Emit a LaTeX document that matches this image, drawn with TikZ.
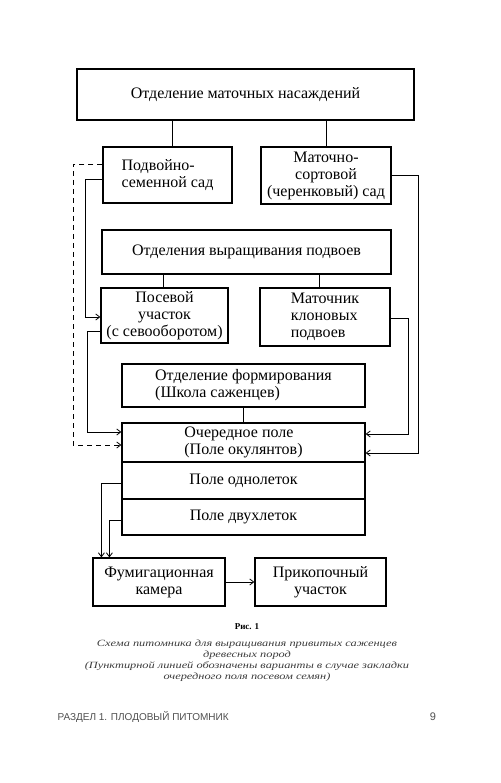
\documentclass[tikz,border=0pt]{standalone}
\usepackage{fontspec}
\setmainfont{Liberation Serif}
\newfontfamily\capfont[FakeStretch=1.3]{Liberation Serif}
\newfontfamily\footfont{Liberation Sans}
\usepackage{tikz}
\usetikzlibrary{arrows,arrows.meta,positioning,calc}
\definecolor{capgray}{RGB}{60,60,60}
\definecolor{footgray}{RGB}{80,80,80}
\tikzstyle{arrow} = [->,>={Straight Barb[length=4pt,width=6pt]},line width=0.8pt]
\tikzstyle{link} = [line width=0.8pt]
\tikzstyle{unitbox} = [rectangle, draw, line width=1.2pt, inner sep=2pt, text centered, font=\fontsize{16}{17}\selectfont]

\begin{document}
\begin{tikzpicture}[x=1pt,y=-1pt]
\useasboundingbox[fill=white] (0,0) rectangle (500,783);

% Mother plantations
\node[unitbox, minimum width=337pt, minimum height=51pt] (mother) at (245.5,94.5) {Отделение маточных насаждений};

% Gardens
\node[unitbox, minimum width=129pt, minimum height=56pt, align=left] (seedgarden) at (167.5,175) {Подвойно-\\семенной сад};
\node[unitbox, minimum width=130pt, minimum height=57pt, align=center] (cutgarden) at (326,175.5) {Маточно-\\сортовой\\(черенковый) сад};

% Rootstock department
\node[unitbox, minimum width=289pt, minimum height=44pt] (rootdept) at (246.5,252) {Отделения выращивания подвоев};
\node[unitbox, minimum width=127pt, minimum height=55pt, align=center] (sowing) at (164.5,315.5) {Посевой\\участок\\(с севооборотом)};
\node[unitbox, minimum width=130pt, minimum height=58pt, align=left] (clones) at (325,317) {Маточник\\клоновых\\подвоев};

% Forming department
\node[unitbox, minimum width=243pt, minimum height=43pt, align=left] (forming) at (243.5,385.5) {Отделение формирования\\(Школа саженцев)};

% Fields
\node[unitbox, minimum width=243pt, minimum height=39pt, align=left] (budfield) at (243.5,442.5) {Очередное поле\\(Поле окулянтов)};
\node[unitbox, minimum width=243pt, minimum height=37pt] (oneyear) at (243.5,480.5) {Поле однолеток};
\node[unitbox, minimum width=243pt, minimum height=36pt] (twoyear) at (243.5,517) {Поле двухлеток};

% Fumigation and heeling-in
\node[unitbox, minimum width=132pt, minimum height=48pt, align=center] (fumig) at (159,582) {Фумигационная\\камера};
\node[unitbox, minimum width=131pt, minimum height=48pt, align=center] (heelin) at (320.5,582) {Прикопочный\\участок};

% Caption
\node[font=\fontsize{9}{11}\selectfont\bfseries] (fignum) at (247,626.5) {Рис. 1};
\node[font=\capfont\itshape\fontsize{9.5}{11}\selectfont, text=capgray, align=center, below=3.5pt of fignum] (caption) {Схема питомника для выращивания привитых саженцев\\древесных пород\\(Пунктирной линией обозначены варианты в случае закладки\\очередного поля посевом семян)};

% Footer
\node[font=\footfont\fontsize{10}{12}\selectfont, text=footgray, anchor=west] (section) at (54,717) {РАЗДЕЛ 1. ПЛОДОВЫЙ ПИТОМНИК};
\node[font=\footfont\fontsize{11}{12}\selectfont, text=footgray] (pagenum) at (433,717) {9};

% Tree links
\draw[link] ([xshift=4.5pt]seedgarden.north) -- ([xshift=4.5pt]seedgarden.north |- mother.south);
\draw[link] (cutgarden.north) -- (cutgarden.north |- mother.south);
\draw[link] ([xshift=-1.5pt]sowing.north) -- ([xshift=-1.5pt]sowing.north |- rootdept.south);
\draw[link] ([xshift=-6pt]clones.north) -- ([xshift=-6pt]clones.north |- rootdept.south);
\draw[link] (forming.south) -- (budfield.north);

% Left side
\draw[arrow, dash pattern=on 5pt off 4pt] ([yshift=11pt]seedgarden.west) -- ++(-29,0) |- ([yshift=-2.5pt]budfield.west);
\draw[arrow] ([yshift=-4pt]seedgarden.west) -- ++(-17,0) |- ([yshift=-1.5pt]sowing.west);
\draw[arrow] ([yshift=-15.5pt]sowing.west) -- ++(-13,0) |- ([yshift=10.5pt]budfield.west);

% Right side
\draw[arrow] (cutgarden.east) -- ++(27,0) |- ([yshift=-10.5pt]budfield.east);
\draw[arrow] ([yshift=-1pt]clones.east) -- ++(18,0) |- ([yshift=8.5pt]budfield.east);

% Bottom
\draw[arrow] ([yshift=-2.5pt]oneyear.west) -| ([xshift=9pt]fumig.north west);
\draw[arrow] ([yshift=-3pt]twoyear.west) -| ([xshift=17pt]fumig.north west);
\draw[arrow] (fumig) -- (heelin);
\end{tikzpicture}
\end{document}
